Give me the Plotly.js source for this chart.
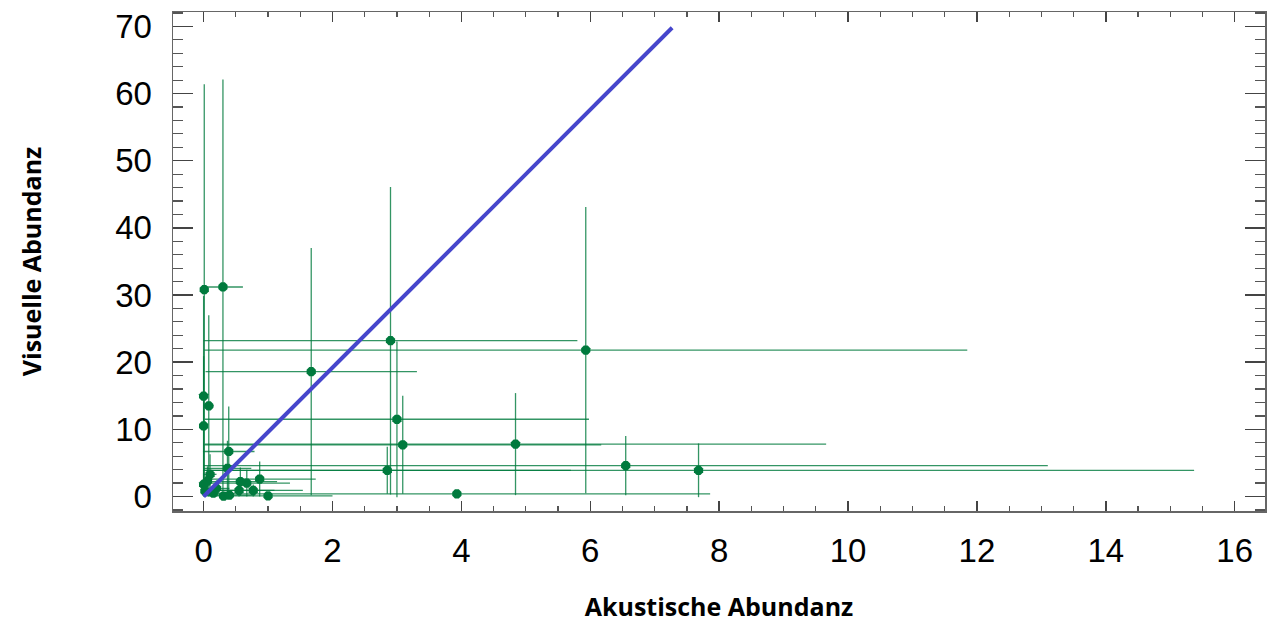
<!DOCTYPE html>
<html>
<head>
<meta charset="utf-8">
<script src="https://cdn.plot.ly/plotly-3.0.1.min.js"></script>
<style>html,body{margin:0;padding:0;background:#fff;}#chart{width:1267px;height:623px;}</style>
</head>
<body>
<div id="chart"></div>
<script>
// Akustische Abundanz (x), Visuelle Abundanz (y) and their error ranges
const akustisch = [0.01, 0.30, 1.67, 2.90, 5.93, 3.00, 3.09, 2.85, 4.84, 6.55, 7.68, 3.93,
  0.00, 0.08, 0.00, 0.39, 0.37, 0.10, 0.06, 0.00, 0.02, 0.31, 0.57, 0.67, 0.87, 0.55, 0.77, 1.00, 0.15, 0.20, 0.40];
const visuell = [30.8, 31.2, 18.6, 23.2, 21.8, 11.5, 7.7, 3.9, 7.8, 4.6, 3.9, 0.4,
  14.95, 13.5, 10.5, 6.7, 4.2, 3.3, 2.3, 1.8, 0.8, 0.05, 2.2, 2.0, 2.6, 0.9, 0.9, 0.1, 0.5, 1.2, 0.2];
const fehlerAkustisch = [0.01, 0.31, 1.64, 2.90, 5.92, 2.98, 3.08, 2.85, 4.82, 6.55, 7.69, 3.93,
  0.01, 0.08, 0.01, 0.40, 0.37, 0.10, 0.06, 0.01, 0.02, 0.05, 0.57, 0.67, 0.87, 0.55, 0.77, 1.00, 0.15, 0.20, 0.40];
const fehlerVisuell = [30.6, 30.9, 18.4, 22.9, 21.3, 11.6, 7.3, 3.5, 7.6, 4.4, 4.0, 0.3,
  14.9, 13.5, 10.4, 6.7, 4.1, 3.0, 2.2, 1.8, 0.8, 0.05, 2.1, 2.0, 2.6, 0.9, 0.9, 0.1, 0.5, 1.2, 0.2];
const linieX = [0, 7.27];
const linieY = [0, 69.8];
const xTicks = [0, 2, 4, 6, 8, 10, 12, 14, 16];
const yTicks = [0, 10, 20, 30, 40, 50, 60, 70];

const green = '#007a3d';
const tickFont = {family: 'Liberation Sans, Arial, sans-serif', size: 33, color: '#000'};
const titleFont = {family: 'Open Sans, sans-serif', size: 25, color: '#000', weight: 'bold'};

const traces = [
  {
    type: 'scatter', mode: 'markers',
    x: akustisch, y: visuell,
    marker: {color: green, size: 10, symbol: 'octagon'},
    error_x: {type: 'data', array: fehlerAkustisch, symmetric: true, color: 'rgba(0,122,61,0.8)', thickness: 1.3, width: 0},
    error_y: {type: 'data', array: fehlerVisuell, symmetric: true, color: 'rgba(0,122,61,0.8)', thickness: 1.3, width: 0},
    hoverinfo: 'x+y', showlegend: false
  },
  {
    type: 'scatter', mode: 'lines',
    x: linieX, y: linieY,
    line: {color: '#4646cc', width: 4},
    showlegend: false
  }
];

const layout = {
  width: 1267, height: 623,
  margin: {l: 173, r: 2, t: 12, b: 112},
  paper_bgcolor: '#fff', plot_bgcolor: '#fff',
  showlegend: false,
  xaxis: {
    range: [-0.475, 16.47],
    tickmode: 'array', tickvals: xTicks, ticktext: xTicks.map(String),
    ticks: 'inside', ticklen: 10, tickwidth: 1.5, tickcolor: '#444',
    minor: {dtick: 0.5, ticks: 'inside', ticklen: 5, tickwidth: 1.2, tickcolor: '#555'},
    showline: true, linecolor: '#666', linewidth: 1.5, mirror: 'allticks',
    showgrid: false, zeroline: false,
    tickfont: tickFont, ticklabelstandoff: 10,
    title: {text: 'Akustische Abundanz', font: titleFont, standoff: 30}
  },
  yaxis: {
    range: [-2.16, 72.15],
    tickmode: 'array', tickvals: yTicks, ticktext: yTicks.map(String),
    ticks: 'inside', ticklen: 20, tickwidth: 1.5, tickcolor: '#444',
    minor: {dtick: 2, ticks: 'inside', ticklen: 10, tickwidth: 1.2, tickcolor: '#555'},
    showline: true, linecolor: '#666', linewidth: 1.5, mirror: 'allticks',
    showgrid: false, zeroline: false,
    tickfont: tickFont, ticklabelstandoff: 13,
    title: {text: 'Visuelle Abundanz', font: titleFont, standoff: 66}
  }
};

Plotly.newPlot('chart', traces, layout, {displayModeBar: false, staticPlot: true});
</script>
</body>
</html>
